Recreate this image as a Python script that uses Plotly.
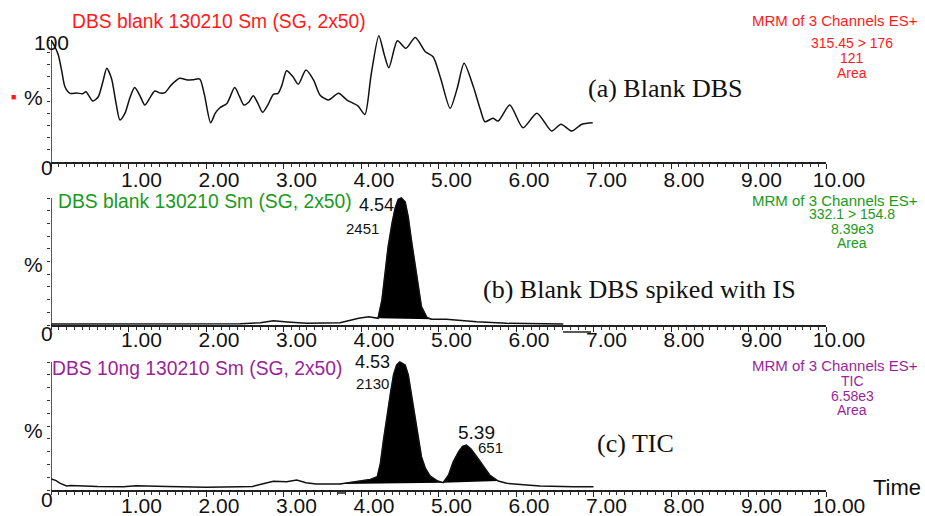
import plotly.graph_objects as go

W, H = 925, 516

# ---------------- data ----------------
tick_vals = [1, 2, 3, 4, 5, 6, 7, 8, 9, 10]
tick_text = ["1.00", "2.00", "3.00", "4.00", "5.00", "6.00", "7.00", "8.00", "9.00", "10.00"]

# (a) Blank DBS  (315.45 > 176)
time_a = [0.0, 0.05, 0.095, 0.14, 0.18, 0.245, 0.33, 0.41, 0.45, 0.54, 0.61, 0.67, 0.72, 0.78, 0.84,
          0.89, 0.955, 1.02, 1.08, 1.15, 1.21, 1.28, 1.34, 1.41, 1.47, 1.55, 1.66, 1.76, 1.84, 1.92,
          1.98, 2.06, 2.12, 2.18, 2.27, 2.37, 2.43, 2.49, 2.55, 2.61, 2.67, 2.73, 2.80, 2.87, 2.93,
          2.98, 3.04, 3.12, 3.19, 3.29, 3.39, 3.47, 3.58, 3.71, 3.82, 3.96, 4.05, 4.13, 4.23, 4.30,
          4.36, 4.47, 4.58, 4.70, 4.83, 4.93, 5.03, 5.15, 5.24, 5.33, 5.45, 5.54, 5.60, 5.70, 5.77,
          5.92, 6.09, 6.27, 6.46, 6.58, 6.72, 6.85, 6.99]
int_a = [100, 94.5, 87.7, 74, 61.7, 56.3, 56.5, 56, 57.6, 50, 53.5, 66, 76.8, 68.6, 48,
         34.4, 40, 53, 61, 54, 46.7, 53, 58.2, 56.5, 56.8, 63, 68.6, 67.2, 67.5, 68,
         55, 32.2, 40, 44.5, 48, 61, 54, 46.7, 49, 54.3, 48, 40.7, 47, 55.5, 56.3,
         63, 74.8, 70, 63.7, 75.4, 67, 55, 50.8, 56.3, 50.8, 46, 39, 71.3, 103.5, 88,
         77.3, 99.4, 93.2, 102, 90.4, 86.3, 68, 44, 60, 81, 61.7, 43, 33, 35.8, 33.6,
         46.7, 28, 40, 25.4, 31, 25.4, 31, 32.2]

# (b) Blank DBS spiked with IS  (332.1 > 154.8)
time_b = [0.0, 0.5, 1.0, 1.5, 2.0, 2.44, 2.7, 2.87, 3.05, 3.3, 3.73, 3.97, 4.10, 4.17, 4.22, 4.27,
          4.31, 4.35, 4.40, 4.44, 4.48, 4.52, 4.57, 4.61, 4.65, 4.70, 4.74, 4.78, 4.85, 4.91,
          5.10, 5.49, 5.88, 6.2, 6.61]
int_b = [0.8, 0.8, 1.0, 0.8, 1.0, 1.0, 1.8, 3.4, 2.4, 1.3, 1.8, 5.3, 6.5, 5.8, 5.3, 19.7,
         40.7, 61.7, 80, 92, 99, 100, 97, 85, 67, 46, 27.6, 14.4, 6, 4.5,
         4.5, 2.6, 1.3, 1.0, 0.8]
peaks_b = [(4.22, 4.91)]

# (c) TIC
time_c = [0.0, 0.06, 0.12, 0.2, 0.25, 0.41, 0.6, 0.93, 1.1, 1.5, 2.0, 2.44, 2.6, 2.75, 2.87, 3.04,
          3.17, 3.29, 3.42, 3.73, 3.94, 4.12, 4.21, 4.25, 4.29, 4.33, 4.38, 4.42, 4.46, 4.50,
          4.57, 4.61, 4.65, 4.70, 4.74, 4.78, 4.83, 4.89, 4.98, 5.06, 5.13, 5.19, 5.26, 5.31,
          5.36, 5.42, 5.51, 5.58, 5.66, 5.77, 5.88, 6.14, 6.31, 6.74, 7.0]
int_c = [8.6, 7.5, 5.2, 3.1, 3.5, 3.0, 2.8, 2.6, 3.3, 2.8, 2.1, 2.6, 2.8, 5.0, 6.8, 6.5,
         7.8, 5.7, 4.7, 4.7, 6.5, 8.3, 10.4, 20.8, 39, 57, 75.5, 90, 97.7, 100,
         97.7, 90, 75.5, 57, 40, 26, 17, 11, 7.3, 5.7, 11.7, 22, 30, 34,
         35, 32, 24.7, 18.2, 11.7, 7, 5.2, 3.9, 3.1, 2.6, 2.6]
peaks_c = [(3.73, 5.06), (5.06, 5.77)]

# ---------------- helpers ----------------
def px(x):
    return x / W

def py(y):
    return 1 - y / H

X0, X1 = 51, 826
panels = [
    # (time, intensity, peaks, y0 pixel, px per %, yrange top, label standoff)
    (time_a, int_a, [], 162, 1.22, 106, -7),
    (time_b, int_b, peaks_b, 325, 1.27, 102, -10),
    (time_c, int_c, peaks_c, 490, 1.28, 102, -9),
]

fig = go.Figure()
FONT = "Liberation Sans, Arial, sans-serif"
SERIF = "Liberation Serif, Times New Roman, serif"

for k, (t, v, peaks, y0px, scale, ytop, standoff) in enumerate(panels):
    xa = "x" if k == 0 else f"x{k+1}"
    ya = "y" if k == 0 else f"y{k+1}"
    for (t0, t1) in peaks:
        xs = [t[i] for i in range(len(t)) if t0 <= t[i] <= t1]
        ys = [v[i] for i in range(len(t)) if t0 <= t[i] <= t1]
        fig.add_trace(go.Scatter(x=xs, y=ys, mode="lines", fill="toself",
                                 fillcolor="black", line=dict(width=0.5, color="black"),
                                 xaxis=xa, yaxis=ya, hoverinfo="skip"))
    fig.add_trace(go.Scatter(x=t, y=v, mode="lines",
                             line=dict(color="#111111", width=1.5,
                                       shape="spline" if k == 0 else "linear", smoothing=0.7),
                             xaxis=xa, yaxis=ya))
    top_px = y0px - scale * ytop
    xkey = "xaxis" if k == 0 else f"xaxis{k+1}"
    ykey = "yaxis" if k == 0 else f"yaxis{k+1}"
    fig.update_layout(**{
        xkey: dict(domain=[px(X0), px(X1)], range=[0, 10], anchor=ya, automargin=False,
                   showline=True, linecolor="#222", linewidth=1.5, showgrid=False,
                   zeroline=False, ticks="outside", tickvals=tick_vals, ticktext=tick_text,
                   ticklen=5, tickwidth=1.2, tickcolor="#222",
                   tickfont=dict(family=FONT, size=21, color="#111"),
                   ticklabelshift=13, ticklabelstandoff=standoff,
                   minor=dict(dtick=0.1, ticks="outside", ticklen=3, tickcolor="#333", tickwidth=1)),
        ykey: dict(domain=[py(y0px), py(top_px)], range=[0, ytop], anchor=xa, automargin=False,
                   showline=False, showgrid=False, zeroline=False,
                   ticks="outside", tickvals=list(range(0, 101, 10)), ticklen=3,
                   tickcolor="#333", showticklabels=False),
    })
    fig.add_shape(type="line", xref=xa, yref=ya, x0=0, x1=0, y0=0, y1=100,
                  line=dict(color="#222", width=1.5))

def note(text, x, y, size, color="#111", family=FONT, xanchor="center"):
    fig.add_annotation(text=text, x=px(x), y=py(y), xref="paper", yref="paper",
                       showarrow=False, xanchor=xanchor, yanchor="middle", borderpad=0,
                       font=dict(family=family, size=size, color=color))

RED, GREEN, PURPLE = "#ff1a1a", "#1a9a1a", "#9b1f9b"

# titles
note("DBS blank 130210 Sm (SG, 2x50)", 71, 22, 19.3, RED, xanchor="left")
note("DBS blank 130210 Sm (SG, 2x50)", 57, 201, 19.3, GREEN, xanchor="left")
note("DBS 10ng 130210 Sm (SG, 2x50)", 51, 368, 19.3, PURPLE, xanchor="left")

# right info blocks
for (lines, ys, col) in [
    (["MRM of 3 Channels ES+", "315.45 > 176", "121", "Area"], [21, 43, 58, 73], RED),
    (["MRM of 3 Channels ES+", "332.1 > 154.8", "8.39e3", "Area"], [200, 214, 229, 243], GREEN),
    (["MRM of 3 Channels ES+", "TIC", "6.58e3", "Area"], [365, 381, 396, 410], PURPLE),
]:
    note(lines[0], 919, ys[0], 15, col, xanchor="right")
    for ln, yy in zip(lines[1:], ys[1:]):
        note(ln, 852, yy, 14, col)

# panel captions
note("(a) Blank DBS", 587, 89, 26, "#111", SERIF, xanchor="left")
note("(b) Blank DBS spiked with IS", 482, 289, 26, "#111", SERIF, xanchor="left")
note("(c) TIC", 596, 443, 26, "#111", SERIF, xanchor="left")

# peak labels
note("4.54", 376, 205, 18)
note("2451", 362, 228, 15)
note("4.53", 372, 362, 18)
note("2130", 372, 383, 15)
note("5.39", 477, 432, 19)
note("651", 490, 447, 15)

# y-axis labels
note("100", 51, 42, 21)
for yy in (97, 264, 430):
    note("%", 33, yy, 21)
for yy in (167, 333, 499):
    note("0", 47, yy, 21)
note("■", 13, 97, 9, RED)
note("Time", 897, 487, 22)

# small stray marks from the original printout
fig.add_shape(type="line", xref="paper", yref="paper", x0=px(563), x1=px(591),
              y0=py(332), y1=py(332), line=dict(color="#222", width=1.5))
fig.add_shape(type="line", xref="paper", yref="paper", x0=px(338), x1=px(345),
              y0=py(493), y1=py(493), line=dict(color="#222", width=1.5))

fig.update_layout(template="none", width=W, height=H, autosize=False,
                  margin=dict(l=0, r=0, t=0, b=0, pad=0, autoexpand=False),
                  paper_bgcolor="white", plot_bgcolor="white", showlegend=False)

fig.write_html("out.html", config={"responsive": False, "displayModeBar": False},
               post_script="document.body.style.margin='0';document.body.style.padding='0';"
                           "document.body.style.overflow='hidden';"
                           "document.documentElement.style.overflow='hidden';")
